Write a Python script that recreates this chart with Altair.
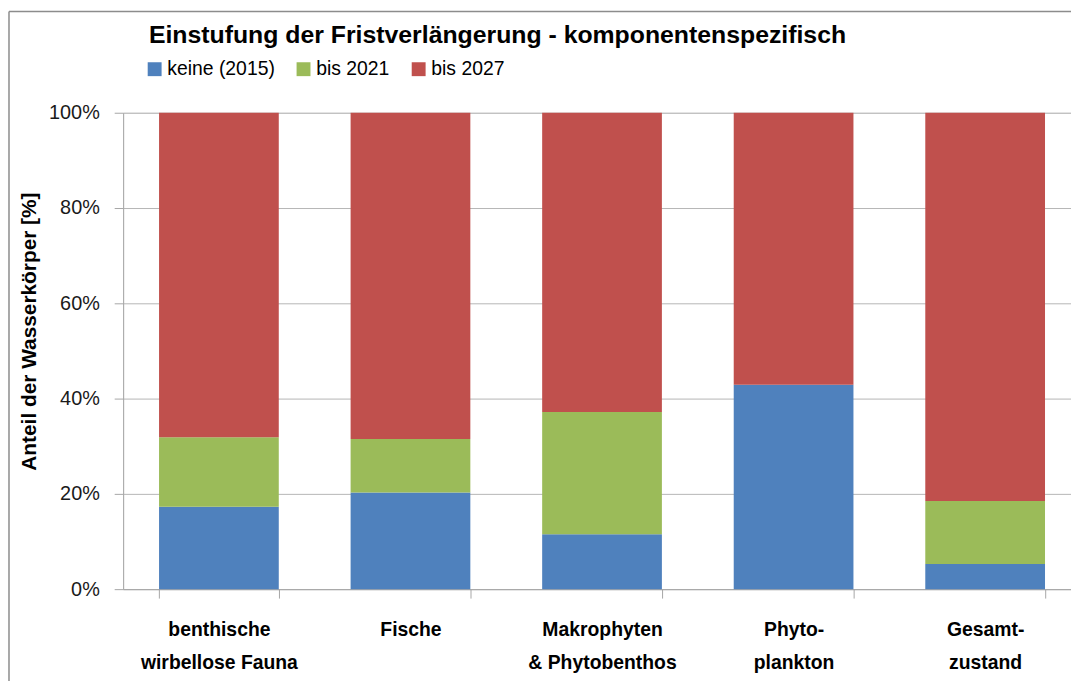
import altair as alt
import pandas as pd

categories = [
    "benthische\nwirbellose Fauna",
    "Fische",
    "Makrophyten\n& Phytobenthos",
    "Phyto-\nplankton",
    "Gesamt-\nzustand",
]
series = ["keine (2015)", "bis 2021", "bis 2027"]
keine_2015 = [17.3, 20.3, 11.5, 42.9, 5.3]
bis_2021 = [14.6, 11.2, 25.7, 0.0, 13.2]
bis_2027 = [68.1, 68.5, 62.8, 57.1, 81.5]
colors = ["#4F81BD", "#9BBB59", "#C0504D"]
title_text = "Einstufung der Fristverlängerung - komponentenspezifisch"

rows = []
for s_i, (name, vals) in enumerate(zip(series, [keine_2015, bis_2021, bis_2027])):
    for c, v in zip(categories, vals):
        rows.append({"Kategorie": c, "Serie": name, "Wert": v / 100.0, "ord": s_i})
df = pd.DataFrame(rows)

FONT = "Liberation Sans"

bars = alt.Chart(df).mark_bar().encode(
    x=alt.X(
        "Kategorie:N",
        sort=categories,
        scale=alt.Scale(paddingInner=0.375, paddingOuter=0.1875, range=[0, 965]),
        axis=alt.Axis(
            title=None,
            labelAngle=0,
            labelExpr="split(datum.label, '\\n')",
            labelFont=FONT,
            labelFontSize=19.5,
            labelFontWeight="bold",
            labelColor="#000000",
            labelLineHeight=33,
            labelPadding=23,
            tickBand="extent",
            tickSize=9,
            tickColor="#A6A6A6",
            domainColor="#A6A6A6",
            grid=False,
        ),
    ),
    y=alt.Y(
        "Wert:Q",
        stack="zero",
        scale=alt.Scale(domain=[0, 1], nice=False),
        axis=alt.Axis(
            title="Anteil der Wasserkörper [%]",
            format=".0%",
            values=[0, 0.2, 0.4, 0.6, 0.8, 1.0],
            labelFont=FONT,
            labelFontSize=20,
            labelColor="#1a1a1a",
            labelPadding=15,
            tickSize=9,
            tickColor="#A6A6A6",
            domainColor="#A6A6A6",
            gridColor="#B5B5B5",
            titleFont=FONT,
            titleFontSize=21,
            titleFontWeight="bold",
            titleColor="#000000",
            titleAngle=-90,
            titleX=-94,
            titleY=220,
            titleAlign="center",
            titleBaseline="middle",
        ),
    ),
    color=alt.Color(
        "Serie:N",
        scale=alt.Scale(domain=series, range=colors),
        legend=alt.Legend(
            title=None,
            orient="none",
            direction="horizontal",
            legendX=22,
            legendY=-54,
            symbolType="square",
            symbolSize=196,
            symbolStrokeWidth=0,
            labelFont=FONT,
            labelFontSize=19.5,
            labelColor="#000000",
            labelOffset=3,
            columnPadding=19,
        ),
    ),
    order=alt.Order("ord:Q"),
)

title_mark = alt.Chart(pd.DataFrame({"t": [title_text]})).mark_text(
    font=FONT, fontSize=25, fontWeight="bold", color="#000000",
    align="left", baseline="alphabetic",
).encode(x=alt.value(26), y=alt.value(-70), text="t:N")

border = alt.Chart(pd.DataFrame({"a": [0]})).mark_rule(color="#8C8C8C", strokeWidth=1.5)
left_line = border.encode(x=alt.value(-115), y=alt.value(-102), y2=alt.value(575))
top_line = border.encode(x=alt.value(-115), x2=alt.value(960), y=alt.value(-102))

chart = alt.layer(bars, title_mark, left_line, top_line).properties(
    width=955,
    height=480,
    autosize=alt.AutoSizeParams(type="none"),
    padding={"left": 116, "top": 103, "right": 0, "bottom": 90},
).configure_view(stroke=None).configure(background="white")

chart.save("out.html", embed_options={"renderer": "svg", "actions": False})
